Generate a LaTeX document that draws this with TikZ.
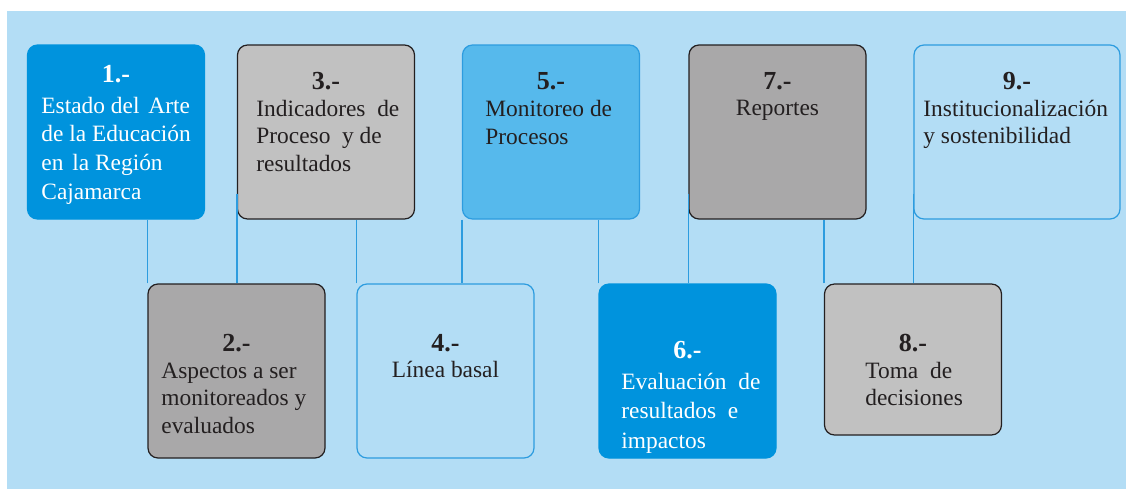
\documentclass[tikz,border=0pt]{standalone}
\usepackage{fontspec}
\setmainfont{Liberation Serif}
\usetikzlibrary{positioning}
\definecolor{bgblue}{HTML}{B3DDF5}
\definecolor{deepblue}{HTML}{0093DD}
\definecolor{midblue}{HTML}{56B9EC}
\definecolor{lightgrey}{HTML}{C1C1C1}
\definecolor{darkgrey}{HTML}{A9A8A9}
\definecolor{lineblue}{HTML}{2D9CDF}
\definecolor{inkgrey}{HTML}{231F20}

\begin{document}
\begin{tikzpicture}[x=0.5pt, y=-0.5pt,
    stagebox/.style={rectangle, rounded corners=5pt, minimum width=88.5pt, minimum height=87pt, inner sep=0pt, line width=0.6pt},
    bluebox/.style={stagebox, draw=deepblue, fill=deepblue},
    skybox/.style={stagebox, draw=lineblue, fill=midblue},
    openbox/.style={stagebox, draw=lineblue, fill=bgblue},
    greybox/.style={stagebox, draw=inkgrey, fill=lightgrey},
    darkbox/.style={stagebox, draw=inkgrey, fill=darkgrey},
    numtxt/.style={inner sep=0pt, anchor=base, text=inkgrey, font=\fontsize{13}{15}\selectfont\bfseries},
    bodytxt/.style={inner sep=0pt, anchor=base west, align=left, text=inkgrey, font=\fontsize{11.7}{14}\selectfont},
    link/.style={draw=lineblue, line width=0.6pt}]
    \fill[bgblue] (7,11) rectangle (1126,489);
    \useasboundingbox (0,0) rectangle (1126,489);

    % upper row
    \node[bluebox] (b1) at (116,132) {};
    \node[greybox] (b3) at (326,132) {};
    \node[skybox] (b5) at (551,132) {};
    \node[darkbox] (b7) at (777.5,132) {};
    \node[openbox, minimum width=103pt] (b9) at (1017,132) {};
    % lower row
    \node[darkbox] (b2) at (236.5,371) {};
    \node[openbox] (b4) at (445.5,371) {};
    \node[bluebox] (b6) at (687.5,371) {};
    \node[greybox, minimum height=75.5pt] (b8) at (913,359.5) {};

    % links
    \draw[link] (b2.north west) -- (b2.north west |- b1.south);
    \draw[link] ([yshift=13pt]b3.south west) -- (b3.south west |- b2.north);
    \draw[link] (b4.north west) -- (b4.north west |- b3.south);
    \draw[link] (b5.south west) -- (b5.south west |- b4.north);
    \draw[link] (b6.north west) -- (b6.north west |- b5.south);
    \draw[link] ([yshift=13pt]b7.south west) -- (b7.south west |- b6.north);
    \draw[link] (b8.north west) -- (b8.north west |- b7.south);
    \draw[link] ([yshift=13pt]b9.south west) -- (b9.south west |- b8.north);

    % labels (base = last line)
    \node[numtxt, text=white] (n1) at (116,82) {1.-};
    \node[bodytxt, text=white, font=\fontsize{11.7}{14.3}\selectfont] (t1) at (41,199) {Estado del\hspace{1.5pt} Arte\\de la Educación\\en\hspace{1.5pt} la Región\\Cajamarca};
    \node[numtxt] (n3) at (326,89) {3.-};
    \node[bodytxt, font=\fontsize{11.7}{13.75}\selectfont] (t3) at (256,171) {Indicadores\ \ de\\Proceso\ \ y de\\resultados};
    \node[numtxt] (n5) at (551,89) {5.-};
    \node[bodytxt, font=\fontsize{11.7}{13.75}\selectfont] (t5) at (485,144) {Monitoreo de\\Procesos};
    \node[numtxt] (n7) at (777.5,89) {7.-};
    \node[bodytxt, anchor=base] (t7) at (777.5,115) {Reportes};
    \node[numtxt] (n9) at (1017,89) {9.-};
    \node[bodytxt, font=\fontsize{11.7}{13.5}\selectfont] (t9) at (923,143) {Institucionalización\\y sostenibilidad};
    \node[numtxt] (n2) at (236.5,351) {2.-};
    \node[bodytxt, font=\fontsize{11.7}{13.75}\selectfont] (t2) at (161,433) {Aspectos a ser\\monitoreados y\\evaluados};
    \node[numtxt] (n4) at (445.5,351) {4.-};
    \node[bodytxt, anchor=base] (t4) at (445.5,377) {Línea basal};
    \node[numtxt, text=white] (n6) at (687.5,358) {6.-};
    \node[bodytxt, text=white, font=\fontsize{11.7}{14.75}\selectfont] (t6) at (621,448) {Evaluación\ \ de\\resultados\ \ e\\impactos};
    \node[numtxt] (n8) at (913,351) {8.-};
    \node[bodytxt, font=\fontsize{11.7}{13.5}\selectfont] (t8) at (865,405) {Toma\ \ de\\decisiones};
\end{tikzpicture}
\end{document}
